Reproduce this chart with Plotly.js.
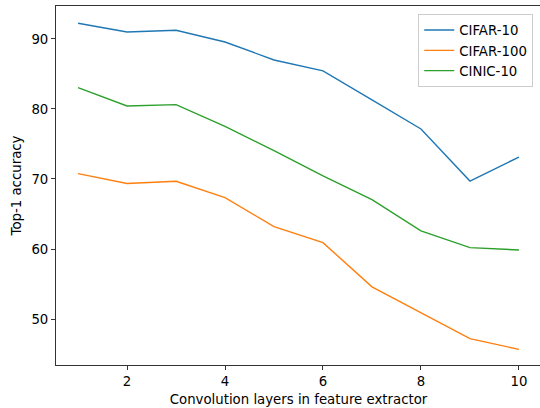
<!DOCTYPE html>
<html>
<head>
<meta charset="utf-8">
<script src="https://cdn.plot.ly/plotly-3.0.1.min.js"></script>
<style>html,body{margin:0;padding:0;overflow:hidden;background:#fff;}</style>
</head>
<body>
<div id="chart"></div>
<script>
const layers = [1, 2, 3, 4, 5, 6, 7, 8, 9, 10];
const cifar10 = [92.25, 91.0, 91.25, 89.57, 87.0, 85.45, 81.3, 77.14, 69.7, 73.14];
const cifar100 = [70.76, 69.36, 69.67, 67.33, 63.2, 60.9, 54.6, 50.9, 47.19, 45.67];
const cinic10 = [83.05, 80.43, 80.62, 77.5, 74.05, 70.45, 67.05, 62.6, 60.19, 59.86];
const seriesNames = ['CIFAR-10', 'CIFAR-100', 'CINIC-10'];
const xTicks = [2, 4, 6, 8, 10];
const yTicks = [50, 60, 70, 80, 90];

const colors = ['#1f77b4', '#ff7f0e', '#2ca02c'];
const data = [cifar10, cifar100, cinic10].map((ys, i) => ({
  x: layers, y: ys, type: 'scatter', mode: 'lines', name: seriesNames[i],
  line: {color: colors[i], width: 1.4}
}));

const font = {family: 'DejaVu Sans', size: 13.3, color: '#000'};
const axisCommon = {
  showgrid: false, zeroline: false, showline: true, mirror: true,
  linecolor: '#333', linewidth: 1, ticks: 'outside', ticklen: 4, tickwidth: 1,
  tickcolor: '#333', tickfont: font
};

const layout = {
  width: 541, height: 408,
  margin: {l: 56, r: 0, t: 6, b: 43},
  paper_bgcolor: '#fff', plot_bgcolor: '#fff',
  font: font,
  showlegend: true,
  legend: {
    x: 0.984, y: 0.978, xanchor: 'right', yanchor: 'top',
    bgcolor: 'rgba(255,255,255,0.8)', bordercolor: '#ccc', borderwidth: 1,
    font: font, itemwidth: 30
  },
  xaxis: Object.assign({}, axisCommon, {
    range: [0.55, 10.45], tickvals: xTicks,
    title: {text: 'Convolution layers in feature extractor', font: font, standoff: 6}
  }),
  yaxis: Object.assign({}, axisCommon, {
    range: [43.43, 94.71], tickvals: yTicks,
    title: {text: 'Top-1 accuracy', font: font, standoff: 6}
  })
};

Plotly.newPlot('chart', data, layout, {staticPlot: true, displayModeBar: false});
</script>
</body>
</html>
